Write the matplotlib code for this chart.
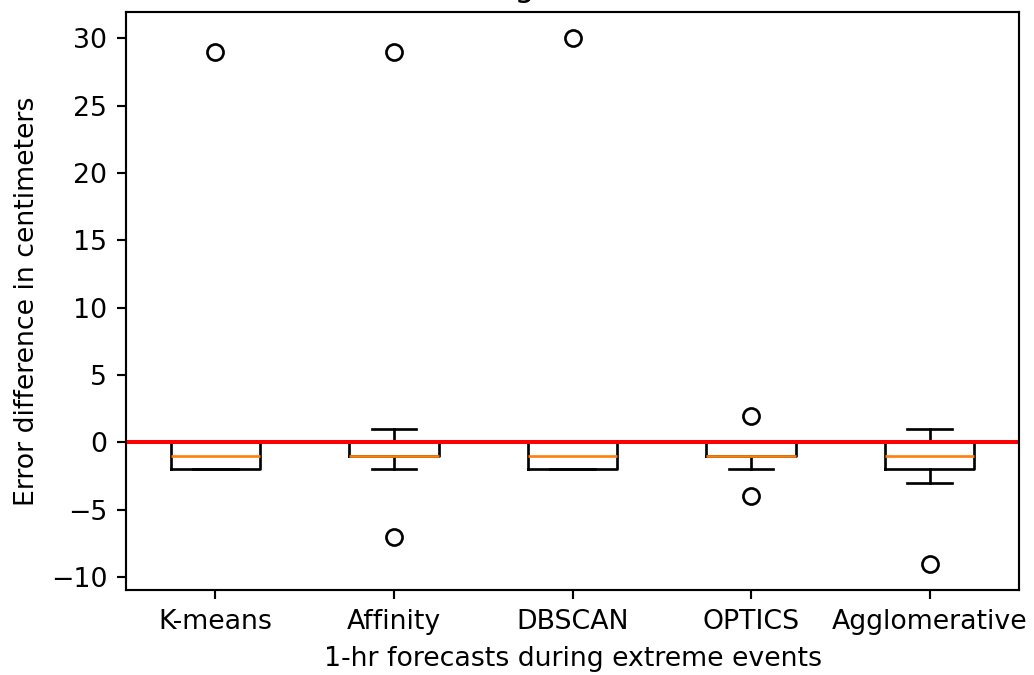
import matplotlib
matplotlib.use('Agg')
from matplotlib import pyplot as plt

# 每种聚类方法的误差差值（厘米）
methods = ['K-means', 'Affinity', 'DBSCAN', 'OPTICS', 'Agglomerative']
kmeans = [-2, -2, -2, -1, -1, 0, 0, 0, 29]
affinity = [-7, -2, -1, -1, -1, -1, 0, 0, 1, 29]
dbscan = [-2, -2, -2, -1, -1, 0, 0, 0, 30]
optics = [-4, -2, -1, -1, -1, -1, 0, 0, 0, 2]
agglomerative = [-9, -3, -2, -2, -1, -1, 0, 0, 0, 1]

title = 'Clustering method errors'

DPI = 193
fig, ax = plt.subplots(figsize=(1034 / DPI, 675 / DPI), dpi=DPI)
fig.subplots_adjust(left=0.1219, right=0.9855, top=0.9822, bottom=0.1259)

ax.boxplot([kmeans, affinity, dbscan, optics, agglomerative])
ax.axhline(0, color='red', linewidth=1.5)
ax.set_xticks(range(1, len(methods) + 1))
ax.set_xticklabels(methods)
ax.set_xlabel('1-hr forecasts during extreme events')
ax.set_ylabel('Error difference in centimeters')
ax.set_title(title)

fig.savefig('out.png', dpi=DPI)
plt.close(fig)
